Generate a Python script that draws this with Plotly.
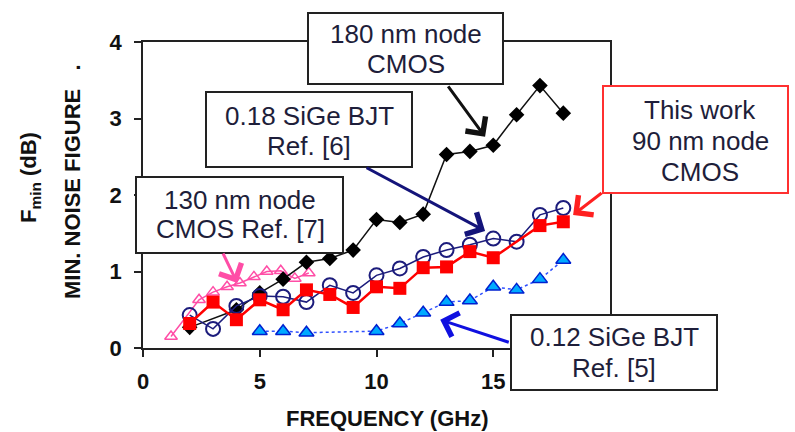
import plotly.graph_objects as go

# ---- data (frequency in GHz, minimum noise figure in dB) ----
cmos180_f = [2, 4, 5, 6, 7, 8, 9, 10, 11, 12, 13, 14, 15, 16, 17, 18]
cmos180_nf = [0.27, 0.50, 0.72, 0.90, 1.12, 1.17, 1.28, 1.68, 1.64, 1.75, 2.53, 2.57, 2.65, 3.05, 3.43, 3.07]

this_work_f = [2, 3, 4, 5, 6, 7, 8, 9, 10, 11, 12, 13, 14, 15, 17, 18]
this_work_nf = [0.32, 0.60, 0.37, 0.63, 0.50, 0.76, 0.70, 0.53, 0.80, 0.78, 1.05, 1.06, 1.26, 1.18, 1.60, 1.65]

sige018_f = [2, 3, 4, 5, 6, 7, 8, 9, 10, 11, 12, 13, 14, 15, 16, 17, 18]
sige018_nf = [0.43, 0.25, 0.55, 0.68, 0.67, 0.60, 0.82, 0.72, 0.95, 1.04, 1.19, 1.28, 1.35, 1.43, 1.39, 1.74, 1.83]

sige012_f = [5, 6, 7, 10, 11, 12, 13, 14, 15, 16, 17, 18]
sige012_nf = [0.22, 0.22, 0.20, 0.22, 0.32, 0.46, 0.60, 0.62, 0.80, 0.76, 0.90, 1.15]

cmos130_f = [1.2, 2.4, 3.0, 3.6, 4.15, 4.75, 5.3, 5.9, 6.5, 7.1]
cmos130_nf = [0.15, 0.63, 0.73, 0.80, 0.85, 0.93, 1.00, 1.01, 0.91, 0.98]

x_ticks = [0, 5, 10, 15]
y_ticks = [0, 1, 2, 3, 4]

# ---- geometry helpers (pixel -> paper) ----
W, H = 795, 432
ML, MR, MT, MB = 143, 185, 42, 84
PW, PH = W - ML - MR, H - MT - MB


def px(x):
    return (x - ML) / PW


def py(y):
    return (H - MB - y) / PH


TEXT = "Liberation Sans, Arial, sans-serif"
TXT_COL = "#1e1e3a"

fig = go.Figure()

fig.add_trace(go.Scatter(
    x=cmos130_f, y=cmos130_nf, mode="lines+markers",
    line=dict(color="#ff4da6", width=1.5),
    marker=dict(symbol="triangle-up-open", size=11, color="#ff4da6", line=dict(width=1.5)),
))
fig.add_trace(go.Scatter(
    x=sige012_f, y=sige012_nf, mode="lines+markers",
    line=dict(color="#3050ff", width=1.5, dash="dot"),
    marker=dict(symbol="triangle-up", size=13, color="#00aaff", line=dict(color="#0020d0", width=1.5)),
))
fig.add_trace(go.Scatter(
    x=cmos180_f, y=cmos180_nf, mode="lines+markers",
    line=dict(color="#111111", width=1.5),
    marker=dict(symbol="diamond", size=12, color="#000000"),
))
fig.add_trace(go.Scatter(
    x=sige018_f, y=sige018_nf, mode="lines+markers",
    line=dict(color="#1c1c7c", width=1.5),
    marker=dict(symbol="circle-open", size=14, color="#1c1c7c", line=dict(width=2)),
))
fig.add_trace(go.Scatter(
    x=this_work_f, y=this_work_nf, mode="lines+markers",
    line=dict(color="#ff0000", width=2.5),
    marker=dict(symbol="square", size=13, color="#ff0000"),
))

# ---- label boxes ----
boxes = [
    (308, 13, 503, 84, "#222222"),
    (206, 92, 412, 167, "#222222"),
    (136, 177, 343, 253, "#222222"),
    (603, 86, 788, 193, "#ff3030"),
    (511, 315, 717, 390, "#222222"),
]
shapes = []
for x0, y0, x1, y1, col in boxes:
    shapes.append(dict(
        type="rect", xref="paper", yref="paper",
        x0=px(x0), x1=px(x1), y0=py(y1), y1=py(y0),
        line=dict(color=col, width=2), fillcolor="white", layer="above",
    ))

# text lines: (center x px, center y px, text)
lines = [
    (406, 34, "180 nm node"), (406, 64, "CMOS"),
    (309, 116, "0.18 SiGe BJT"), (309, 146, "Ref. [6]"),
    (240, 200, "130 nm node"), (240, 229, "CMOS Ref. [7]"),
    (700, 110, "This work"), (700, 141, "90 nm node"), (700, 172, "CMOS"),
    (614, 337, "0.12 SiGe BJT"), (614, 368, "Ref. [5]"),
]
annotations = []
for cx, cy, t in lines:
    annotations.append(dict(
        text=t, xref="paper", yref="paper", x=px(cx), y=py(cy),
        xanchor="center", yanchor="middle", showarrow=False,
        font=dict(family=TEXT, size=26, color=TXT_COL),
    ))

# arrows: tip in data coords, tail offset in pixels, colour
arrows = [
    (14.65, 2.76, -38, -52, "#111111"),
    (14.65, 1.53, -120, -64, "#14147a"),
    (4.04, 0.85, -15, -31, "#ff4da6"),
    (18.42, 1.74, 30, -23, "#ff2020"),
    (12.73, 0.37, 70, 23, "#1010e0"),
]
for x, y, ax, ay, col in arrows:
    annotations.append(dict(
        x=x, y=y, xref="x", yref="y", ax=ax, ay=ay, axref="pixel", ayref="pixel",
        text="", showarrow=True, arrowhead=4, arrowsize=1.6, arrowwidth=3,
        arrowcolor=col, standoff=0,
    ))

# axis titles
annotations.append(dict(
    text="F<sub>min</sub> (dB)", xref="paper", yref="paper", x=px(30), y=py(178),
    textangle=-90, showarrow=False, xanchor="center", yanchor="middle",
    font=dict(family=TEXT, size=22, color="#111111", weight="bold"),
))
annotations.append(dict(
    text="MIN. NOISE FIGURE\u00a0\u00a0\u00a0.", xref="paper", yref="paper", x=px(72), y=py(182),
    textangle=-90, showarrow=False, xanchor="center", yanchor="middle",
    font=dict(family=TEXT, size=22, color="#111111", weight="bold"),
))
annotations.append(dict(
    text="FREQUENCY (GHz)", xref="paper", yref="paper", x=px(387), y=py(418),
    showarrow=False, xanchor="center", yanchor="middle",
    font=dict(family=TEXT, size=22, color="#111111", weight="bold"),
))

axis_common = dict(
    showgrid=False, zeroline=False, showline=True, linecolor="#222222", linewidth=1.5,
    mirror=True, ticks="outside", ticklen=7, tickwidth=1.5, tickcolor="#222222",
    tickfont=dict(family=TEXT, size=22, color="#111111", weight="bold"),
)

fig.update_layout(
    width=W, height=H,
    margin=dict(l=ML, r=MR, t=MT, b=MB, autoexpand=False),
    paper_bgcolor="white", plot_bgcolor="white",
    showlegend=False,
    xaxis=dict(range=[0, 20], tickvals=x_ticks, ticklabelstandoff=6, **axis_common),
    yaxis=dict(range=[0, 4], tickvals=y_ticks, ticklabelstandoff=8, **axis_common),
    shapes=shapes,
    annotations=annotations,
)

fig.write_html("out.html")
